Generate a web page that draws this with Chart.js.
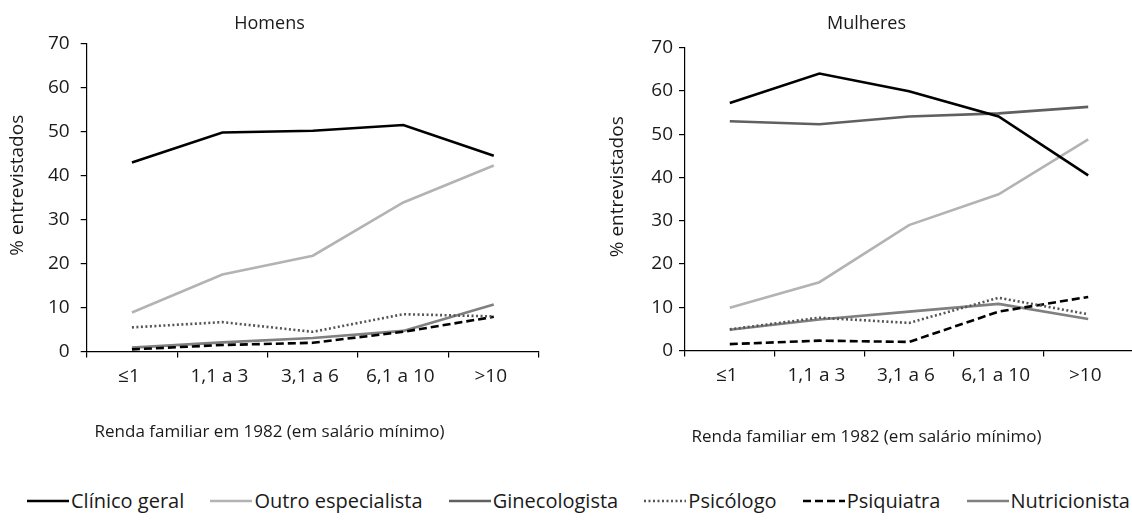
<!DOCTYPE html>
<html lang="pt">
<head>
<meta charset="utf-8">
<title>Renda familiar e especialista consultado</title>
<script src="https://cdn.jsdelivr.net/npm/chart.js@4.4.1/dist/chart.umd.min.js"></script>
<style>
  html, body { margin: 0; padding: 0; background: #fff; overflow: hidden; }
  body { width: 1132px; height: 521px; position: relative; font-family: "Open Sans", Lato, sans-serif; color: #1a1a1a; }
  .box { position: absolute; top: 0; }
  #boxHomens { left: 0; width: 545px; height: 450px; }
  #boxMulheres { left: 600px; width: 539px; height: 455px; }
  #legenda { position: absolute; left: 27px; top: 487px; width: 1103px; display: flex; justify-content: space-between; font-size: 20px; }
  #legenda span { display: flex; align-items: center; white-space: nowrap; }
  #legenda svg { margin-right: 2px; }
</style>
</head>
<body>
<div class="box" id="boxHomens"><canvas id="chartHomens"></canvas></div>
<div class="box" id="boxMulheres"><canvas id="chartMulheres"></canvas></div>
<div id="legenda"></div>
<script>
const categorias = ["≤1", "1,1 a 3", "3,1 a 6", "6,1 a 10", ">10"];
const marcasY = [0, 10, 20, 30, 40, 50, 60, 70];

// Homens (% entrevistados)
const homensClinico = [43.0, 49.8, 50.2, 51.5, 44.5];
const homensOutro = [8.9, 17.5, 21.8, 33.9, 42.3];
const homensPsicologo = [5.5, 6.7, 4.5, 8.5, 8.0];
const homensPsiquiatra = [0.5, 1.5, 2.0, 4.5, 7.9];
const homensNutricionista = [0.9, 2.1, 3.1, 4.7, 10.7];

// Mulheres (% entrevistados)
const mulheresClinico = [57.2, 64.0, 59.9, 54.1, 40.5];
const mulheresGinecologista = [53.0, 52.3, 54.1, 54.8, 56.3];
const mulheresOutro = [9.9, 15.8, 29.0, 36.1, 48.8];
const mulheresPsicologo = [4.9, 7.6, 6.4, 12.2, 8.4];
const mulheresPsiquiatra = [1.5, 2.3, 2.0, 9.0, 12.4];
const mulheresNutricionista = [4.8, 7.2, 9.0, 10.8, 7.3];

const estilos = {
  "Clínico geral": { color: "#000000", dash: [] },
  "Outro especialista": { color: "#b3b3b3", dash: [] },
  "Ginecologista": { color: "#606060", dash: [] },
  "Psicólogo": { color: "#555555", dash: [2, 2.5] },
  "Psiquiatra": { color: "#000000", dash: [8, 4] },
  "Nutricionista": { color: "#808080", dash: [] }
};

const FONTE = "'Open Sans', Lato, sans-serif";

function serie(nome, valores) {
  const e = estilos[nome];
  return {
    label: nome,
    data: valores,
    borderColor: e.color,
    backgroundColor: e.color,
    borderDash: e.dash,
    borderWidth: 2.6,
    pointRadius: 0,
    tension: 0,
    fill: false
  };
}

function opcoes(titulo, larguraY, alturaX, padTitulo, padTicksY) {
  return {
    responsive: true,
    maintainAspectRatio: false,
    animation: false,
    layout: { padding: { left: 0, right: 6, top: 0, bottom: 0 } },
    plugins: {
      legend: { display: false },
      tooltip: { enabled: false },
      title: {
        display: true,
        text: titulo,
        color: "#1a1a1a",
        font: { family: FONTE, size: 18, weight: "normal" },
        padding: padTitulo
      },
      subtitle: {
        display: true,
        position: "bottom",
        text: "Renda familiar em 1982 (em salário mínimo)",
        color: "#1a1a1a",
        font: { family: FONTE, size: 17, weight: "normal" },
        padding: { top: 0, bottom: 8 }
      }
    },
    scales: {
      x: {
        type: "category",
        offset: true,
        afterFit: s => { s.height = alturaX; },
        border: { display: true, color: "#000", width: 1.2 },
        grid: { offset: true, drawOnChartArea: false, drawTicks: true, tickLength: 6, color: "#000", lineWidth: 1.2 },
        ticks: { color: "#1a1a1a", padding: 8, labelOffset: -3, maxRotation: 0, font: { family: FONTE, size: 19 } }
      },
      y: {
        min: 0,
        max: 70,
        afterFit: s => { s.width = larguraY; },
        afterBuildTicks: s => { s.ticks = marcasY.map(v => ({ value: v })); },
        border: { display: true, color: "#000", width: 1.2 },
        grid: { drawOnChartArea: false, drawTicks: true, tickLength: 6, color: "#000", lineWidth: 1.2 },
        ticks: { color: "#1a1a1a", padding: padTicksY, font: { family: FONTE, size: 19 } },
        title: {
          display: true,
          // espaços à frente sobem o título, como no original
          text: "     % entrevistados",
          color: "#1a1a1a",
          font: { family: FONTE, size: 19, weight: "normal" },
          padding: { top: 6, bottom: 0 }
        }
      }
    }
  };
}

document.addEventListener("DOMContentLoaded", () => {
  const ctxH = document.getElementById("chartHomens").getContext("2d");
  const ctxM = document.getElementById("chartMulheres").getContext("2d");

  new Chart(ctxH, {
    type: "line",
    data: {
      labels: categorias,
      datasets: [
        serie("Clínico geral", homensClinico),
        serie("Outro especialista", homensOutro),
        serie("Psicólogo", homensPsicologo),
        serie("Psiquiatra", homensPsiquiatra),
        serie("Nutricionista", homensNutricionista)
      ]
    },
    options: opcoes("Homens", 86.7, 70, { top: 13, bottom: 9 }, 11)
  });

  new Chart(ctxM, {
    type: "line",
    data: {
      labels: categorias,
      datasets: [
        serie("Clínico geral", mulheresClinico),
        serie("Outro especialista", mulheresOutro),
        serie("Ginecologista", mulheresGinecologista),
        serie("Psicólogo", mulheresPsicologo),
        serie("Psiquiatra", mulheresPsiquiatra),
        serie("Nutricionista", mulheresNutricionista)
      ]
    },
    options: opcoes("Mulheres", 85, 76, { top: 13, bottom: 13 }, 6)
  });

  // legenda comum às duas figuras
  const legenda = document.getElementById("legenda");
  Object.keys(estilos).forEach(nome => {
    const e = estilos[nome];
    const item = document.createElement("span");
    item.innerHTML =
      `<svg width="42" height="10"><line x1="0" y1="5" x2="42" y2="5" stroke="${e.color}" stroke-width="2.5" stroke-dasharray="${e.dash.join(" ")}"/></svg>` + nome;
    legenda.appendChild(item);
  });
});
</script>
</body>
</html>
